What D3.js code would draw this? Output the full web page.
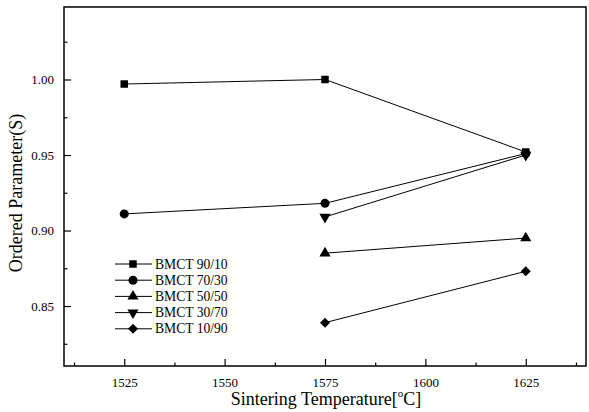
<!DOCTYPE html>
<html><head><meta charset="utf-8">
<script src="https://cdn.jsdelivr.net/npm/d3@7"></script>
<style>body{margin:0;background:#fff}svg{display:block}text{font-family:"Liberation Serif","DejaVu Serif",serif;fill:#000}</style>
</head><body><svg id="c" width="589" height="412"></svg>
<script>
const temps = [1525, 1575, 1625];
const series = [
  {name: "BMCT 90/10", symbol: "square",   values: [[1525, 0.997], [1575, 1.000], [1625, 0.952]]},
  {name: "BMCT 70/30", symbol: "circle",   values: [[1525, 0.911], [1575, 0.918], [1625, 0.951]]},
  {name: "BMCT 50/50", symbol: "triangle", values: [[1575, 0.885], [1625, 0.895]]},
  {name: "BMCT 30/70", symbol: "down",     values: [[1575, 0.909], [1625, 0.950]]},
  {name: "BMCT 10/90", symbol: "diamond",  values: [[1575, 0.839], [1625, 0.873]]}
];
const xTicks = [1525, 1550, 1575, 1600, 1625];
const xMinor = [1512.5, 1537.5, 1562.5, 1587.5, 1612.5, 1637.5];
const yTicks = [0.85, 0.90, 0.95, 1.00];
const yMinor = [0.825, 0.875, 0.925, 0.975, 1.025];

const svg = d3.select("#c");
const L = 64, R = 586, T = 7, B = 366;
const x = d3.scaleLinear().domain([1510, 1640]).range([L, R]);
const y = d3.scaleLinear().domain([0.8103, 1.048]).range([B, T]);
const FF = '"Liberation Serif","DejaVu Serif",serif';

svg.append("rect").attr("x", L).attr("y", T).attr("width", R - L).attr("height", B - T)
  .attr("fill", "none").attr("stroke", "#000").attr("stroke-width", 1.5);

const gx = svg.append("g").attr("transform", `translate(0,${B})`)
  .call(d3.axisBottom(x).tickValues(xTicks).tickSize(-7).tickPadding(12).tickFormat(d3.format("d")));
gx.attr("font-family", FF).attr("font-size", 13);
gx.select(".domain").remove();
const gxm = svg.append("g").attr("transform", `translate(0,${B})`)
  .call(d3.axisBottom(x).tickValues(xMinor).tickSize(-3.5).tickFormat(""));
gxm.select(".domain").remove();

const gy = svg.append("g").attr("transform", `translate(${L},0)`)
  .call(d3.axisLeft(y).tickValues(yTicks).tickSize(-7).tickPadding(10).tickFormat(d3.format(".2f")));
gy.attr("font-family", FF).attr("font-size", 13);
gy.select(".domain").remove();
const gym = svg.append("g").attr("transform", `translate(${L},0)`)
  .call(d3.axisLeft(y).tickValues(yMinor).tickSize(-3.5).tickFormat(""));
gym.select(".domain").remove();
svg.selectAll(".tick line").attr("stroke", "#000").attr("stroke-width", 1.2);
svg.selectAll(".tick text").style("font-family", FF).style("font-size", "13px").attr("fill", "#000");

const xt = svg.append("text").attr("x", 326).attr("y", 405).attr("text-anchor", "middle")
  .attr("font-size", 18);
xt.append("tspan").text("Sintering Temperature[");
xt.append("tspan").attr("font-size", 11).attr("dy", -8).text("o");
xt.append("tspan").attr("dy", 8).text("C]");
svg.append("text").attr("transform", `translate(22,193) rotate(-90)`)
  .attr("text-anchor", "middle").attr("font-size", 18).text("Ordered Parameter(S)");

const symMap = {
  square: d3.symbol().type(d3.symbolSquare).size(56),
  circle: d3.symbol().type(d3.symbolCircle).size(64),
  triangle: d3.symbol().type(d3.symbolTriangle).size(54),
  down: d3.symbol().type(d3.symbolTriangle).size(54),
  diamond: d3.symbol().type(d3.symbolSquare).size(50)
};
function marker(g, s, px, py) {
  let tr = `translate(${px},${py})`;
  if (s === "down") tr += " rotate(180)";
  if (s === "diamond") tr += " rotate(45)";
  g.append("path").attr("d", symMap[s]()).attr("fill", "#000").attr("transform", tr);
}

const line = d3.line().x(d => x(d[0])).y(d => y(d[1]));
series.forEach(s => {
  svg.append("path").attr("d", line(s.values)).attr("fill", "none").attr("stroke", "#000").attr("stroke-width", 1);
  s.values.forEach(v => marker(svg, s.symbol, x(v[0]), y(v[1])));
});

const lg = svg.append("g");
series.forEach((s, i) => {
  const ly = 264 + i * 16.2;
  lg.append("line").attr("x1", 115).attr("x2", 152).attr("y1", ly).attr("y2", ly).attr("stroke", "#000").attr("stroke-width", 1);
  marker(lg, s.symbol, 133, ly);
  lg.append("text").attr("x", 155).attr("y", ly + 4.5).attr("font-size", 13.6).text(s.name);
});
</script></body></html>
